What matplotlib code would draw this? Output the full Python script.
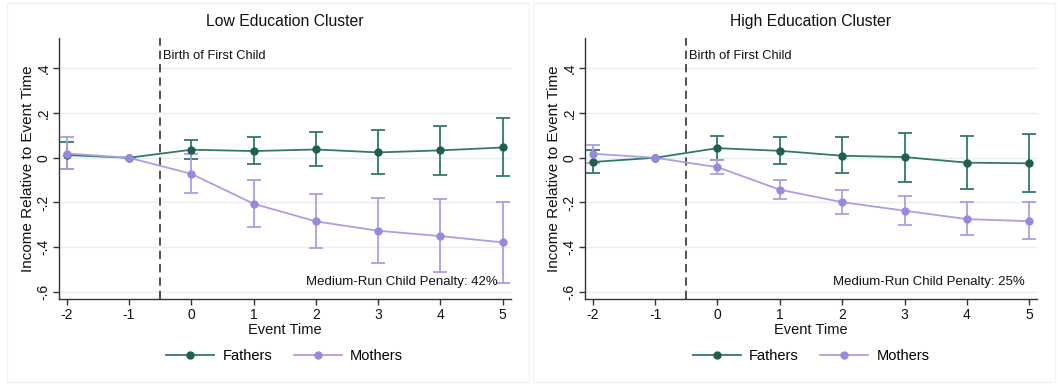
import matplotlib
matplotlib.use("Agg")
import matplotlib.pyplot as plt
from matplotlib.patches import Rectangle
from matplotlib.lines import Line2D

plt.rcParams['font.family'] = ['Liberation Sans', 'DejaVu Sans']

event_time = [-2, -1, 0, 1, 2, 3, 4, 5]
y_ticks = [-0.6, -0.4, -0.2, 0, 0.2, 0.4]
y_tick_labels = ["-.6", "-.4", "-.2", "0", ".2", ".4"]

panels = ["Low Education Cluster", "High Education Cluster"]
penalties = ["Medium-Run Child Penalty: 42%", "Medium-Run Child Penalty: 25%"]
series_names = ["Fathers", "Mothers"]

# Low education
low_fathers = [0.012, 0.0, 0.036, 0.030, 0.037, 0.024, 0.033, 0.046]
low_fathers_lo = [-0.051, 0.0, -0.006, -0.028, -0.039, -0.073, -0.078, -0.082]
low_fathers_hi = [0.072, 0.0, 0.078, 0.091, 0.115, 0.125, 0.143, 0.176]
low_mothers = [0.019, 0.0, -0.072, -0.206, -0.285, -0.327, -0.351, -0.379]
low_mothers_lo = [-0.050, 0.0, -0.157, -0.309, -0.403, -0.473, -0.510, -0.560]
low_mothers_hi = [0.094, 0.0, 0.015, -0.101, -0.164, -0.181, -0.187, -0.197]

# High education
high_fathers = [-0.019, 0.0, 0.043, 0.031, 0.009, 0.003, -0.022, -0.025]
high_fathers_lo = [-0.069, 0.0, -0.012, -0.030, -0.070, -0.107, -0.139, -0.155]
high_fathers_hi = [0.034, 0.0, 0.097, 0.094, 0.091, 0.112, 0.097, 0.106]
high_mothers = [0.018, 0.0, -0.042, -0.143, -0.199, -0.237, -0.275, -0.284]
high_mothers_lo = [-0.022, 0.0, -0.075, -0.187, -0.252, -0.300, -0.346, -0.366]
high_mothers_hi = [0.058, 0.0, -0.009, -0.100, -0.146, -0.173, -0.200, -0.199]

data = [
    (low_fathers, low_fathers_lo, low_fathers_hi, low_mothers, low_mothers_lo, low_mothers_hi),
    (high_fathers, high_fathers_lo, high_fathers_hi, high_mothers, high_mothers_lo, high_mothers_hi),
]

FATHER_LINE = "#2f7a68"
FATHER_MARK = "#1e5f50"
MOTHER_LINE = "#aa9fe6"
MOTHER_MARK = "#9789dd"

W, H = 1058, 385
fig = plt.figure(figsize=(W / 100, H / 100), dpi=100)

# panel frames
for x0, x1 in [(7, 529), (533, 1055)]:
    fig.patches.append(Rectangle((x0 / W, 3 / H), (x1 - x0) / W, (382 - 3) / H,
                                 transform=fig.transFigure, fill=False,
                                 edgecolor="#f2f2f2", linewidth=1.0))

axes_pos = [(58.7, 510.7), (584.7, 1037.3)]
top_px, bot_px = 38.3, 299.3

for i, (x0, x1) in enumerate(axes_pos):
    ax = fig.add_axes([x0 / W, (H - bot_px) / H, (x1 - x0) / W, (bot_px - top_px) / H])
    f, flo, fhi, m, mlo, mhi = data[i]
    ferr = [[a - b for a, b in zip(f, flo)], [b - a for a, b in zip(f, fhi)]]
    merr = [[a - b for a, b in zip(m, mlo)], [b - a for a, b in zip(m, mhi)]]

    ax.errorbar(event_time, f, yerr=ferr, color=FATHER_LINE, ecolor=FATHER_LINE,
                marker='o', markersize=5, markerfacecolor=FATHER_MARK,
                markeredgecolor=FATHER_MARK, linewidth=1.3, elinewidth=1.3,
                capsize=5, capthick=1.3, zorder=3)
    ax.errorbar(event_time, m, yerr=merr, color=MOTHER_LINE, ecolor=MOTHER_LINE,
                marker='o', markersize=5, markerfacecolor=MOTHER_MARK,
                markeredgecolor=MOTHER_MARK, linewidth=1.3, elinewidth=1.3,
                capsize=5, capthick=1.3, zorder=3)

    ax.axvline(-0.5, color="#333333", linestyle=(0, (5, 3)), linewidth=1.2, zorder=2)
    ax.text(-0.45, 0.457, "Birth of First Child", fontsize=9.3, va='center', ha='left',
            color="#111111")
    ax.text(4.92, -0.555, penalties[i], fontsize=9.5, va='center', ha='right',
            color="#111111")

    ax.set_xlim(-2.128, 5.128)
    ax.set_ylim(-0.634, 0.535)
    ax.set_xticks(event_time)
    ax.set_xticklabels([str(t) for t in event_time], fontsize=10)
    ax.set_yticks(y_ticks)
    ax.set_yticklabels(y_tick_labels, fontsize=10, rotation=90, va='center')
    ax.grid(axis='y', color="#e6eff1", linewidth=1.0, zorder=0)
    ax.set_axisbelow(True)
    for s in ['top', 'right']:
        ax.spines[s].set_visible(False)
    for s in ['left', 'bottom']:
        ax.spines[s].set_color("#333333")
        ax.spines[s].set_linewidth(1.0)
    ax.tick_params(axis='both', direction='out', length=4, width=1.0, color="#333333",
                   pad=2, labelcolor="#111111")
    ax.set_xlabel("Event Time", fontsize=10.5, labelpad=1, color="#111111")
    ax.set_ylabel("Income Relative to Event Time", fontsize=11, labelpad=1, color="#111111")
    ax.set_title(panels[i], fontsize=11.3, pad=9, color="#111111")
    handles = [
        Line2D([], [], color=FATHER_LINE, linewidth=1.3, marker='o', markersize=5,
               markerfacecolor=FATHER_MARK, markeredgecolor=FATHER_MARK),
        Line2D([], [], color=MOTHER_LINE, linewidth=1.3, marker='o', markersize=5,
               markerfacecolor=MOTHER_MARK, markeredgecolor=MOTHER_MARK),
    ]
    ax.legend(handles, series_names, loc='center', bbox_to_anchor=(0.5, -0.217), ncol=2,
              frameon=False, fontsize=10.5, handlelength=3.3, columnspacing=1.5,
              handletextpad=0.55)

fig.savefig("out.png", dpi=100)
